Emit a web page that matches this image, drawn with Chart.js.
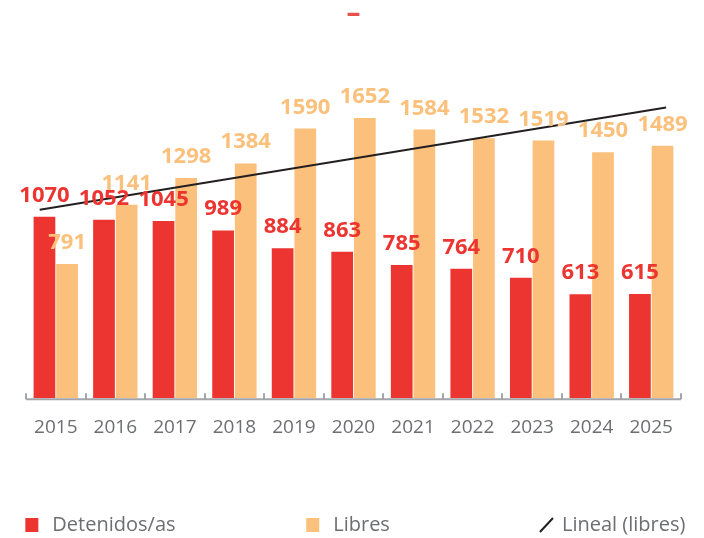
<!DOCTYPE html>
<html lang="es">
<head>
<meta charset="UTF-8">
<title>Detenidos/as y libres</title>
<script src="https://cdn.jsdelivr.net/npm/chart.js"></script>
<style>
  html, body { margin: 0; padding: 0; background: #fff; }
  #wrap { width: 704px; height: 538px; }
</style>
</head>
<body>
<div id="wrap"><canvas id="chart"></canvas></div>
<script>
// data
const years = ['2015', '2016', '2017', '2018', '2019', '2020', '2021', '2022', '2023', '2024', '2025'];
const detenidos = [1070, 1052, 1045, 989, 884, 863, 785, 764, 710, 613, 615];
const libres = [791, 1141, 1298, 1384, 1590, 1652, 1584, 1532, 1519, 1450, 1489];
// trend line ends (year index, value)
const trendX = [-0.27, 10.25];
const trendY = [1111, 1714];

const RED = '#ec3530';
const ORANGE = '#fbc07b';
const GREY = '#6d6e71';
const FONT = "'Open Sans', sans-serif";

// values above the bars
const valueLabels = {
    id: 'valueLabels',
    afterDatasetsDraw(chart) {
        const ctx = chart.ctx;
        ctx.save();
        ctx.font = 'bold 22px ' + FONT;
        ctx.textAlign = 'center';
        ctx.textBaseline = 'alphabetic';
        chart.data.datasets.forEach((ds, di) => {
            if (ds.type === 'line') return;
            ctx.fillStyle = ds.backgroundColor;
            chart.getDatasetMeta(di).data.forEach((bar, i) => {
                ctx.fillText(String(ds.data[i].y), bar.x, bar.y - 15);
            });
        });
        ctx.restore();
    }
};

// grey baseline with small ticks pointing up between the years
const baseAxis = {
    id: 'baseAxis',
    afterDatasetsDraw(chart) {
        const {ctx, chartArea} = chart;
        const x = chart.scales.x;
        const y0 = chartArea.bottom + 1;
        ctx.save();
        ctx.strokeStyle = '#a3a5aa';
        ctx.lineWidth = 2;
        ctx.beginPath();
        ctx.moveTo(chartArea.left, y0);
        ctx.lineTo(chartArea.right, y0);
        for (let i = 0; i <= years.length; i++) {
            const tx = Math.round(x.getPixelForValue(i - 0.5));
            ctx.moveTo(tx, y0);
            ctx.lineTo(tx, y0 - 6);
        }
        ctx.stroke();
        ctx.restore();
    }
};

// legend spread across the bottom
const bottomLegend = {
    id: 'bottomLegend',
    afterDraw(chart) {
        const ctx = chart.ctx;
        const w = chart.width;
        const cy = chart.height - 13;
        const spots = [0.036, 0.435, 0.767];
        ctx.save();
        ctx.font = '20px ' + FONT;
        ctx.textBaseline = 'middle';
        chart.data.datasets.forEach((ds, i) => {
            const mx = w * spots[i];
            if (ds.type === 'line') {
                ctx.strokeStyle = ds.borderColor;
                ctx.lineWidth = 2;
                ctx.beginPath();
                ctx.moveTo(mx, cy + 7);
                ctx.lineTo(mx + 13, cy - 7);
                ctx.stroke();
            } else {
                ctx.fillStyle = ds.backgroundColor;
                ctx.fillRect(mx, cy - 7, 13, 14);
            }
            ctx.fillStyle = GREY;
            ctx.fillText(ds.label, mx + (ds.type === 'line' ? 22 : 27), cy);
        });
        ctx.restore();
    }
};

new Chart(document.getElementById('chart'), {
    type: 'bar',
    data: {
        datasets: [
            {
                label: 'Detenidos/as',
                data: detenidos.map((v, i) => ({ x: i, y: v })),
                backgroundColor: RED,
                categoryPercentage: 0.76,
                barPercentage: 0.96
            },
            {
                label: 'Libres',
                data: libres.map((v, i) => ({ x: i, y: v })),
                backgroundColor: ORANGE,
                categoryPercentage: 0.76,
                barPercentage: 0.96
            },
            {
                type: 'line',
                label: 'Lineal (libres)',
                data: trendX.map((x, i) => ({ x: x, y: trendY[i] })),
                borderColor: '#231f20',
                borderWidth: 2,
                pointRadius: 0,
                order: -1
            }
        ]
    },
    options: {
        responsive: true,
        maintainAspectRatio: false,
        animation: false,
        devicePixelRatio: 1,
        layout: { padding: { left: 26, right: 23, top: 0, bottom: 89 } },
        plugins: {
            legend: { display: false },
            tooltip: { enabled: false },
            title: {
                display: true,
                text: '–',
                color: '#e8504a',
                font: { family: FONT, size: 28, weight: 'bold', lineHeight: 1 },
                padding: { top: 0, bottom: 31 }
            }
        },
        scales: {
            x: {
                type: 'linear',
                offset: false,
                min: -0.5,
                max: 10.5,
                grid: { display: false },
                border: { display: false },
                afterBuildTicks: (scale) => { scale.ticks = years.map((_, i) => ({ value: i })); },
                ticks: {
                    color: GREY,
                    font: { family: FONT, size: 19 },
                    padding: 10,
                    maxRotation: 0,
                    autoSkip: false,
                    callback: (v) => years[v]
                }
            },
            y: { display: false, min: 0, max: 2000 }
        }
    },
    plugins: [baseAxis, valueLabels, bottomLegend]
});
</script>
</body>
</html>
